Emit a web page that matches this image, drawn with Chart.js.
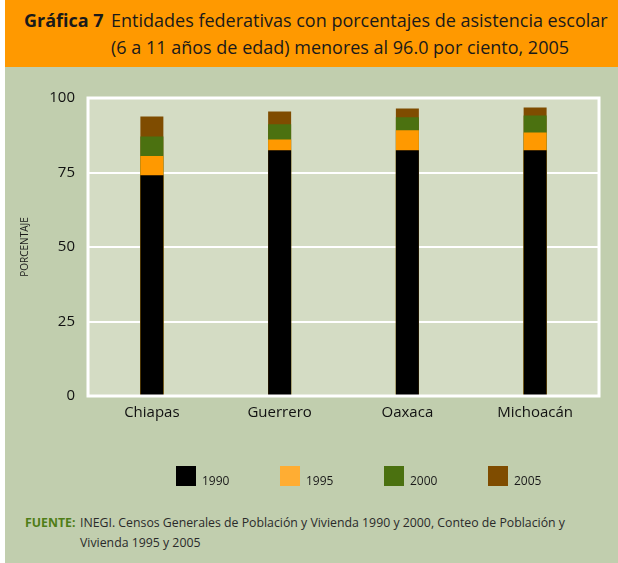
<!DOCTYPE html>
<html>
<head>
<meta charset="utf-8">
<script src="https://cdn.jsdelivr.net/npm/chart.js@4.4.0/dist/chart.umd.min.js"></script>
<style>
  body { margin: 0; background: #fff; }
  #page { position: relative; width: 618px; height: 563px; overflow: hidden; }
  #panel { position: absolute; left: 5px; top: 0; width: 613px; height: 563px; background: #c1ceae; }
  #header { position: absolute; left: 5px; top: 0; width: 613px; height: 67px; background: #ff9900; }
  #title { position: absolute; left: 24px; top: 7px; display: flex; white-space: nowrap; font-family: "Open Sans", sans-serif; font-size: 18px; line-height: 27px; color: #1a1a1a; }
  #title .num { font-weight: bold; width: 87px; }
  #chartWrap { position: absolute; left: 0; top: 67px; width: 618px; height: 430px; }
  #footer { position: absolute; left: 25px; top: 513px; display: flex; white-space: nowrap; font-family: "Open Sans", sans-serif; font-size: 12.3px; line-height: 20px; color: #2a2a2a; }
  #footer .src { color: #4f7d17; font-weight: bold; width: 55px; }
</style>
</head>
<body>
<div id="page">
  <div id="panel"></div>
  <div id="header"></div>
  <div id="title">
    <div class="num">Gráfica 7</div>
    <div>Entidades federativas con porcentajes de asistencia escolar<br>(6 a 11 años de edad) menores al 96.0 por ciento, 2005</div>
  </div>
  <div id="chartWrap"><canvas id="chart"></canvas></div>
  <div id="footer">
    <div class="src">FUENTE:</div>
    <div>INEGI. Censos Generales de Población y Vivienda 1990 y 2000, Conteo de Población y<br>Vivienda 1995 y 2005</div>
  </div>
</div>
<script>
// Data
const categories = ['Chiapas', 'Guerrero', 'Oaxaca', 'Michoacán'];
const years = ['1990', '1995', '2000', '2005'];
const values1990 = [74.1, 82.5, 82.5, 82.5];
const values1995 = [80.5, 86.1, 89.2, 88.4];
const values2000 = [87.1, 91.2, 93.5, 94.1];
const values2005 = [93.8, 95.5, 96.5, 96.8];
const yTicks = [0, 25, 50, 75, 100];

const colors = ['#000000', '#ff9900', '#4b7110', '#7f4c00'];
const legendColors = ['#000000', '#ffad33', '#4b7110', '#7f4c00'];

// Plot background and white frame
const plotFrame = {
    id: 'plotFrame',
    beforeDraw(chart) {
        const a = chart.chartArea;
        const ctx = chart.ctx;
        ctx.save();
        ctx.fillStyle = '#d4dcc4';
        ctx.fillRect(a.left, a.top, a.right - a.left, a.bottom - a.top);
        ctx.restore();
    },
    afterDatasetsDraw(chart) {
        const a = chart.chartArea;
        const ctx = chart.ctx;
        ctx.save();
        ctx.strokeStyle = '#ffffff';
        ctx.lineWidth = 3;
        ctx.strokeRect(a.left, a.top, a.right - a.left, a.bottom - a.top);
        ctx.restore();
    }
};

// Legend drawn below the axis
const bottomLegend = {
    id: 'bottomLegend',
    afterDraw(chart) {
        const ctx = chart.ctx;
        ctx.save();
        ctx.font = '12px "Open Sans", sans-serif';
        ctx.textBaseline = 'alphabetic';
        chart.data.datasets.forEach((ds, i) => {
            const x = 176 + i * 104;
            const y = 399;
            ctx.fillStyle = legendColors[i];
            ctx.fillRect(x, y, 20, 20);
            ctx.fillStyle = '#1a1a1a';
            ctx.fillText(ds.label, x + 26, y + 19);
        });
        ctx.restore();
    }
};

const ctx = document.getElementById('chart').getContext('2d');
new Chart(ctx, {
    type: 'bar',
    data: {
        labels: categories,
        datasets: [
            { label: years[0], data: values1990, backgroundColor: colors[0] },
            { label: years[1], data: values1995, backgroundColor: colors[1] },
            { label: years[2], data: values2000, backgroundColor: colors[2] },
            { label: years[3], data: values2005, backgroundColor: colors[3] }
        ]
    },
    options: {
        responsive: true,
        maintainAspectRatio: false,
        animation: false,
        layout: { padding: { top: 31, right: 19, left: 0, bottom: 0 } },
        datasets: { bar: { categoryPercentage: 1, barPercentage: 0.18, borderWidth: 0 } },
        plugins: {
            legend: { display: false },
            tooltip: { enabled: false }
        },
        scales: {
            x: {
                stacked: true,
                grid: { display: false, drawTicks: false },
                border: { display: false },
                ticks: { color: '#111111', padding: 8, font: { family: 'Open Sans', size: 15 } },
                afterFit(scale) { scale.height = 101; }
            },
            y: {
                stacked: false,
                min: 0,
                max: 100,
                afterBuildTicks(scale) { scale.ticks = yTicks.map(v => ({ value: v })); },
                grid: { color: '#ffffff', lineWidth: 2, drawTicks: false },
                border: { display: false },
                ticks: { color: '#111111', padding: 13, font: { family: 'Open Sans', size: 15 } },
                title: {
                    display: true,
                    text: 'PORCENTAJE',
                    color: '#1a1a1a',
                    font: { family: 'Open Sans', size: 10 },
                    padding: { top: 19, bottom: 0 }
                },
                afterFit(scale) { scale.width = 88; }
            }
        }
    },
    plugins: [plotFrame, bottomLegend]
});
</script>
</body>
</html>
